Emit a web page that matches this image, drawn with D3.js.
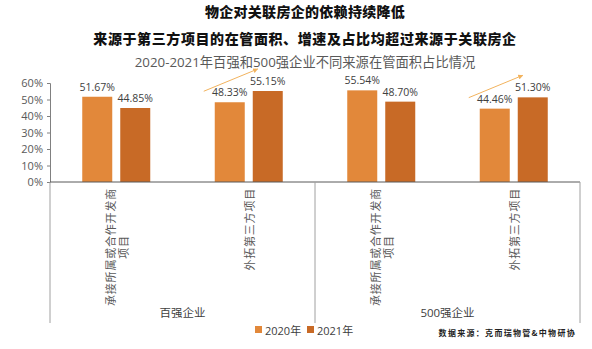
<!DOCTYPE html>
<html>
<head>
<meta charset="utf-8">
<script src="https://cdn.jsdelivr.net/npm/d3@7/dist/d3.min.js"></script>
<style>
  html, body { margin: 0; padding: 0; background: #ffffff; }
  svg { display: block; }
</style>
</head>
<body>
<svg id="chart" width="592" height="349"></svg>
<script>
// ---- data ----
const titleLines = ["物企对关联房企的依赖持续降低", "来源于第三方项目的在管面积、增速及占比均超过来源于关联房企"];
const subtitle = "2020-2021年百强和500强企业不同来源在管面积占比情况";
const groups = ["百强企业", "500强企业"];
const categories = ["承接所属或合作开发商项目", "外拓第三方项目"];
const categoryLines = [["承接所属或合作开发商", "项目"], ["外拓第三方项目"]];
const seriesNames = ["2020年", "2021年"];
const values2020 = [51.67, 48.33, 55.54, 44.46];
const values2021 = [44.85, 55.15, 48.70, 51.30];
const yTicks = [0, 10, 20, 30, 40, 50, 60];
const sourceText = "数据来源：克而瑞物管&中物研协";
const colors = ["#E2883A", "#C86A26"];

// ---- build rows ----
const rows = [];
groups.forEach((g, gi) => categories.forEach((c, ci) => {
  const i = gi * categories.length + ci;
  rows.push({ key: g + "|" + c, group: g, ci, values: [values2020[i], values2021[i]] });
}));

const svg = d3.select("#chart");
const cjk = "'Noto Sans CJK SC', 'Noto Sans', sans-serif";
const latin = "'Open Sans', 'Noto Sans CJK SC', sans-serif";

// ---- titles ----
svg.append("text").attr("x", 305).attr("y", 17).attr("text-anchor", "middle")
  .style("font-family", cjk).style("font-weight", 900).style("font-size", "14px")
  .style("letter-spacing", "0.3px").attr("fill", "#111").text(titleLines[0]);
svg.append("text").attr("x", 305).attr("y", 44).attr("text-anchor", "middle")
  .style("font-family", cjk).style("font-weight", 900).style("font-size", "14px")
  .style("letter-spacing", "0.6px").attr("fill", "#111").text(titleLines[1]);
svg.append("text").attr("x", 305).attr("y", 67).attr("text-anchor", "middle")
  .style("font-family", latin).style("font-size", "13.3px")
  .attr("fill", "#595959").text(subtitle);

// ---- scales ----
const x0 = d3.scaleBand().domain(rows.map(r => r.key)).range([50, 580]).padding(0);
const bw = x0.bandwidth();
const x1 = d3.scaleBand().domain(seriesNames)
  .range([(bw - 68) / 2, (bw + 68) / 2]).paddingInner(8 / 38).paddingOuter(0);
const y = d3.scaleLinear().domain([0, 60]).range([182, 83]);

// ---- y axis ----
const yAxis = d3.axisLeft(y).tickValues(yTicks).tickFormat(d => d + "%").tickSizeOuter(0).tickSize(3).tickPadding(4);
const yg = svg.append("g").attr("transform", "translate(50,0)").call(yAxis);
yg.select(".domain").attr("stroke", "#808080");
yg.selectAll(".tick line").attr("stroke", "#808080");
yg.selectAll(".tick text").attr("fill", "#595959")
  .style("font-family", latin).style("font-size", "11px");

// ---- bars ----
const rowG = svg.selectAll("g.row").data(rows).join("g").attr("class", "row")
  .attr("transform", d => `translate(${x0(d.key)},0)`);
rowG.selectAll("rect").data(d => d.values.map((v, si) => ({ v, si })))
  .join("rect")
  .attr("x", d => x1(seriesNames[d.si]))
  .attr("width", x1.bandwidth())
  .attr("y", d => y(d.v))
  .attr("height", d => y(0) - y(d.v))
  .attr("fill", d => colors[d.si]);
rowG.selectAll("text.val").data(d => d.values.map((v, si) => ({ v, si })))
  .join("text").attr("class", "val")
  .attr("x", d => x1(seriesNames[d.si]) + x1.bandwidth() / 2)
  .attr("y", d => y(d.v) - 6)
  .attr("text-anchor", "middle")
  .style("font-family", latin).style("font-size", "10.5px")
  .attr("fill", "#404040")
  .text(d => d.v.toFixed(2) + "%");

// ---- x axis baseline ----
svg.append("line").attr("x1", 50).attr("x2", 580).attr("y1", y(0)).attr("y2", y(0))
  .attr("stroke", "#595959").attr("stroke-width", 1);

// group separator lines
const groupEdges = [50];
groups.forEach(g => {
  const keys = rows.filter(r => r.group === g).map(r => r.key);
  groupEdges.push(x0(keys[keys.length - 1]) + bw);
});
svg.selectAll("line.sep").data(groupEdges).join("line").attr("class", "sep")
  .attr("x1", d => d).attr("x2", d => d).attr("y1", y(0)).attr("y2", 323)
  .attr("stroke", "#a0a0a0").attr("stroke-width", 1);

// category labels (rotated)
rows.forEach(r => {
  const lines = categoryLines[r.ci];
  const cx = x0(r.key) + bw / 2;
  const g = svg.append("g");
  const texts = lines.map((t, li) => {
    const off = (li - (lines.length - 1) / 2) * 13;
    return g.append("text").attr("text-anchor", "middle").attr("dominant-baseline", "central")
      .style("font-family", cjk).style("font-size", "11px").style("letter-spacing", "0.8px")
      .attr("fill", "#595959")
      .attr("data-off", off).text(t);
  });
  const maxLen = d3.max(texts, t => t.node().getComputedTextLength());
  const cy = 188 + maxLen / 2;
  texts.forEach(t => {
    const off = +t.attr("data-off");
    t.attr("transform", `translate(${cx + off},${cy}) rotate(-90)`);
  });
});

// group labels
groups.forEach((g, gi) => {
  const cx = (groupEdges[gi] + groupEdges[gi + 1]) / 2;
  svg.append("text").attr("x", cx).attr("y", 317).attr("text-anchor", "middle")
    .style("font-family", latin).style("font-size", "11.5px").attr("fill", "#404040").text(g);
});

// ---- trend arrows over third-party bars ----
const defs = svg.append("defs");
defs.append("marker").attr("id", "arrow").attr("viewBox", "0 0 10 10")
  .attr("refX", 9).attr("refY", 5).attr("markerWidth", 5).attr("markerHeight", 5)
  .attr("orient", "auto").append("path").attr("d", "M0,0 L10,5 L0,10 z").attr("fill", "#F2B35E");
rows.filter(r => r.ci === 1).forEach(r => {
  const bx = x0(r.key);
  svg.append("line")
    .attr("x1", bx + x1(seriesNames[0]) - 11).attr("y1", y(r.values[0]) - 11)
    .attr("x2", bx + x1(seriesNames[1]) + 5).attr("y2", y(r.values[1]) - 22)
    .attr("stroke", "#F2B35E").attr("stroke-width", 1).attr("marker-end", "url(#arrow)");
});

// ---- legend ----
const lg = svg.append("g").attr("transform", "translate(255,330)");
const items = lg.selectAll("g").data(seriesNames).join("g")
  .attr("transform", (d, i) => `translate(${i * 52},0)`);
items.append("rect").attr("x", 0).attr("y", -4).attr("width", 7).attr("height", 7)
  .attr("fill", (d, i) => colors[i]);
items.append("text").attr("x", 10).attr("y", 0).attr("dominant-baseline", "central")
  .style("font-family", latin).style("font-size", "11px").attr("fill", "#404040").text(d => d);

// ---- source ----
svg.append("text").attr("x", 576).attr("y", 336).attr("text-anchor", "end")
  .style("font-family", cjk).style("font-weight", 700).style("font-size", "8px")
  .style("letter-spacing", "1.3px").attr("fill", "#222").text(sourceText);
</script>
</body>
</html>
